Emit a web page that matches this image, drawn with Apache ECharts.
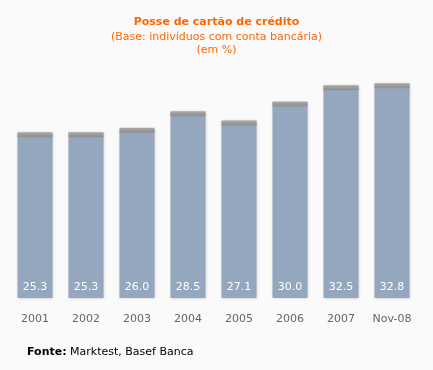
<!DOCTYPE html>
<html><head><meta charset="utf-8">
<script src="https://cdn.jsdelivr.net/npm/echarts@6/dist/echarts.min.js"></script>
<style>html,body{margin:0;padding:0;background:#fafafa;}#c{width:433px;height:370px;}</style>
</head><body><div id="c"></div>
<script>
const categories = ['2001','2002','2003','2004','2005','2006','2007','Nov-08'];
const values = [25.3, 25.3, 26.0, 28.5, 27.1, 30.0, 32.5, 32.8];
const titleText = 'Posse de cartão de crédito';
const subtitleText = '(Base: indivíduos com conta bancária)\n(em %)';

const chart = echarts.init(document.getElementById('c'), null, {renderer:'canvas'});
const font = '"DejaVu Sans", Verdana, sans-serif';
chart.setOption({
  backgroundColor: '#fafafa',
  animation: false,
  title: {
    text: titleText, subtext: subtitleText, left: 'center', top: 12, itemGap: 3,
    textStyle: {color:'#ff6600', fontSize: 11, fontWeight:'bold', fontFamily: font},
    subtextStyle: {color:'#ff6600', fontSize: 11, fontFamily: font, lineHeight: 13}
  },
  grid: {left: 9.5, right: 15.5, top: 70, bottom: 72},
  xAxis: {
    type:'category', data: categories,
    axisLine:{show:false}, axisTick:{show:false},
    axisLabel:{color:'#666', fontSize: 11, fontFamily: font, margin: 16}
  },
  yAxis: {type:'value', min:0, max:35, show:false, splitLine:{show:false}},
  series: [
    {
      type:'bar', data: values, barWidth: 35,
      itemStyle:{color:'#94a7bf', shadowColor:'rgba(0,0,0,0.25)', shadowBlur:3},
      label:{show:true, position:'insideBottom', distance: 5, color:'#fff', fontSize: 11, fontFamily: font,
        formatter: p => p.value.toFixed(1)}
    },
    {
      type:'pictorialBar', data: values, symbol:'rect', symbolSize:[35,5],
      symbolPosition:'end', symbolOffset:[0,-1], z: 5,
      itemStyle:{color: new echarts.graphic.LinearGradient(0,0,0,1,[{offset:0,color:'#a8a8a8'},{offset:1,color:'#8e8e8e'}])},
      silent:true
    }
  ],
  graphic: [{
    type:'text', left: 27, top: 347,
    style:{text:'{b|Fonte:} Marktest, Basef Banca', fill:'#000', font:'11px '+font,
      rich:{b:{fontWeight:'bold', fontSize:11, fontFamily:font, fill:'#000'}}}
  }]
});
</script></body></html>
